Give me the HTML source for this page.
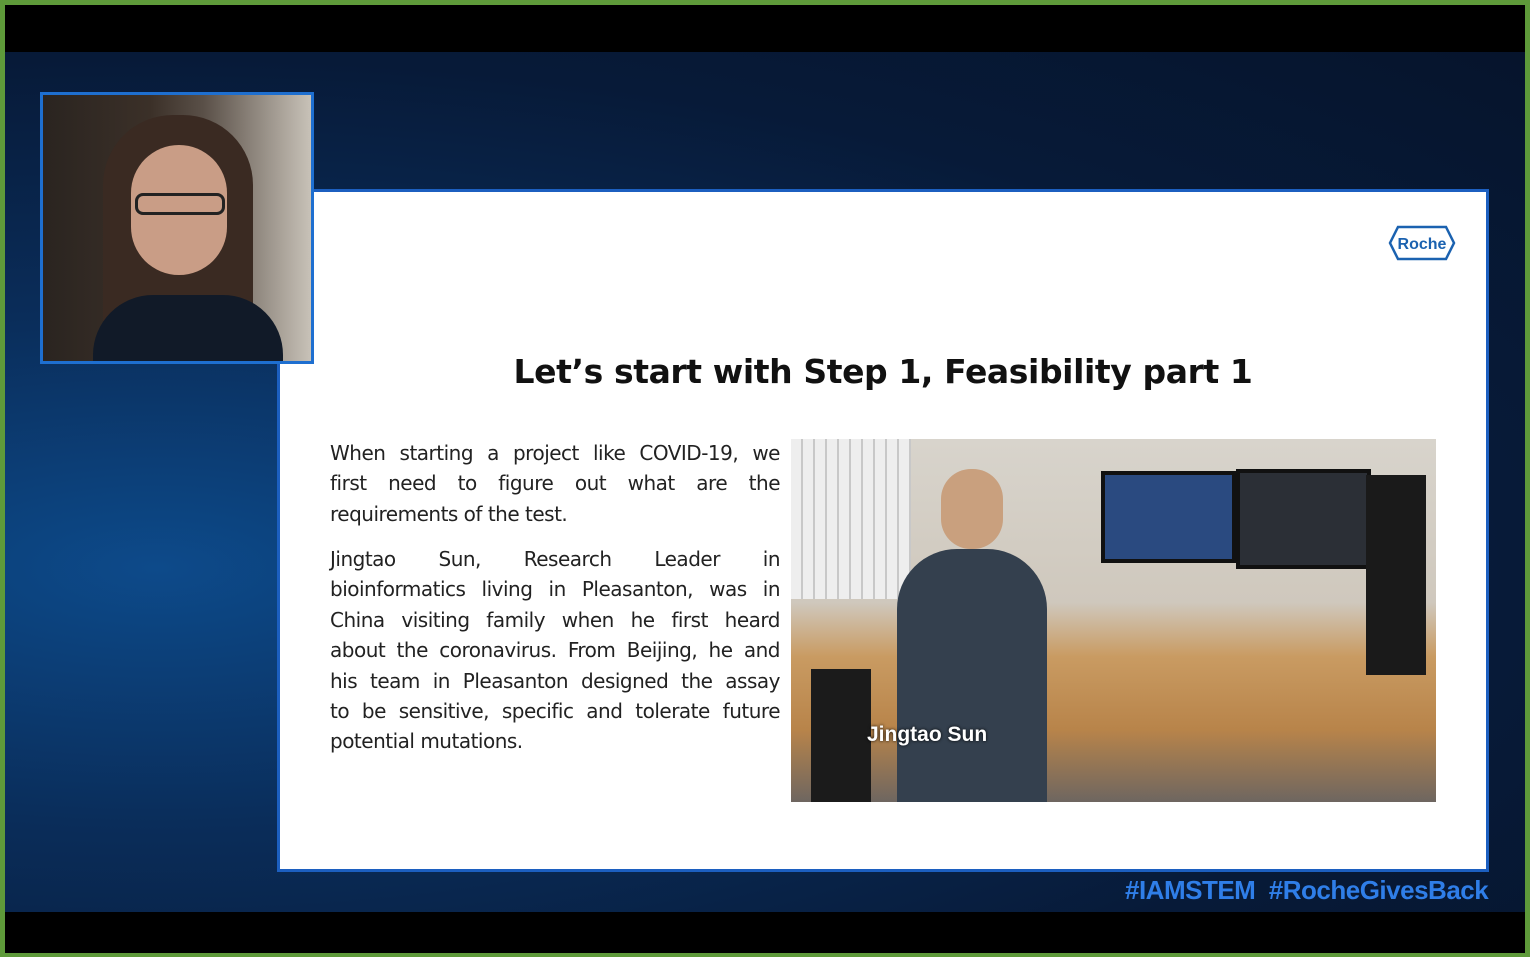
<!DOCTYPE html>
<html><head><meta charset="utf-8">
<style>
*{margin:0;padding:0;box-sizing:border-box}
body{width:1530px;height:957px;overflow:hidden;background:#5e9a3a;position:relative;font-family:"Liberation Sans",sans-serif}
#frame{position:absolute;left:5px;top:5px;width:1520px;height:948px;background:#000}
#bg{position:absolute;left:5px;top:52px;width:1520px;height:860px;background:radial-gradient(ellipse at 10% 60%,#0d4a8a 0%,#0a2d5a 35%,#071a38 70%,#06142c 100%)}
#cam{position:absolute;left:40px;top:92px;width:274px;height:272px;border:3px solid #1e6fd0;background:linear-gradient(90deg,#2a2420 0%,#3b3028 40%,#5a5048 60%,#c8c2b8 100%);overflow:hidden;z-index:5}
#slide{position:absolute;left:277px;top:189px;width:1212px;height:683px;background:#fff;border:3px solid #1c5fc0}
#title{position:absolute;left:0;width:100%;top:160px;text-align:center;font-weight:bold;font-size:33px;color:#111;font-family:"DejaVu Sans","Liberation Sans",sans-serif;letter-spacing:-0.4px}
.txt{position:absolute;left:50px;width:450px;font-size:20px;line-height:30.4px;color:#222;font-family:"DejaVu Sans","Liberation Sans",sans-serif;letter-spacing:-0.5px}
.txt div{white-space:nowrap;text-align:justify;text-align-last:justify}
.txt div.l{text-align-last:left}
#photo{position:absolute;left:511px;top:247px;width:645px;height:363px;background:linear-gradient(180deg,#d8d4cc 0%,#cfc8bd 45%,#c99b62 60%,#b8844a 80%,#6e6660 100%);overflow:hidden}
#cap{position:absolute;left:76px;top:284px;color:#fff;font-weight:bold;font-size:21px;text-shadow:0 0 3px #000}
#roche{position:absolute;left:1108px;top:33px;width:68px;height:36px}
#tags{position:absolute;left:1125px;top:875px;color:#2f7ee8;font-weight:bold;font-size:26px;letter-spacing:-0.5px}
</style></head><body>
<div id="frame"></div>
<div id="bg"></div>
<div id="cam">
 <div style="position:absolute;left:60px;top:20px;width:150px;height:260px;background:#3a2a22;border-radius:70px 70px 0 0"></div>
 <div style="position:absolute;left:88px;top:50px;width:96px;height:130px;background:#c99d86;border-radius:48px"></div>
 <div style="position:absolute;left:92px;top:98px;width:90px;height:22px;border:3px solid #222;border-radius:8px"></div>
 <div style="position:absolute;left:50px;top:200px;width:190px;height:90px;background:#111a28;border-radius:60px 60px 0 0"></div>
</div>
<div id="slide">
 <svg id="roche" viewBox="0 0 68 36"><polygon points="10,2 58,2 66,18 58,34 10,34 2,18" fill="#fff" stroke="#1b62b0" stroke-width="2.5"/><text x="34" y="24" text-anchor="middle" font-size="16" font-weight="bold" fill="#1b62b0" font-family="Liberation Sans">Roche</text></svg>
 <div id="title">Let’s start with Step 1, Feasibility part 1</div>
 <div class="txt" style="top:246px">
  <div>When starting a project like COVID-19, we</div>
  <div>first need to figure out what are the</div>
  <div class="l">requirements of the test.</div>
 </div>
 <div class="txt" style="top:352px">
  <div>Jingtao Sun, Research Leader in</div>
  <div>bioinformatics living in Pleasanton, was in</div>
  <div>China visiting family when he first heard</div>
  <div>about the coronavirus. From Beijing, he and</div>
  <div>his team in Pleasanton designed the assay</div>
  <div>to be sensitive, specific and tolerate future</div>
  <div class="l">potential mutations.</div>
 </div>
 <div id="photo">
  <div style="position:absolute;left:0;top:0;width:120px;height:160px;background:repeating-linear-gradient(90deg,#eee 0 10px,#c8c8c8 10px 12px)"></div>
  <div style="position:absolute;left:310px;top:32px;width:135px;height:92px;background:#2a4a80;border:4px solid #111"></div>
  <div style="position:absolute;left:445px;top:30px;width:135px;height:100px;background:#2b2f36;border:4px solid #111"></div>
  <div style="position:absolute;left:575px;top:36px;width:60px;height:200px;background:#1a1a1a"></div>
  <div style="position:absolute;left:106px;top:110px;width:150px;height:260px;background:#34404e;border-radius:60px 60px 0 0"></div>
  <div style="position:absolute;left:150px;top:30px;width:62px;height:80px;background:#c9a07e;border-radius:30px"></div>
  <div style="position:absolute;left:20px;top:230px;width:60px;height:140px;background:#1b1b1b"></div>
  <div id="cap">Jingtao Sun</div>
 </div>
</div>
<div id="tags">#IAMSTEM&nbsp;&nbsp;#RocheGivesBack</div>
</body></html>
